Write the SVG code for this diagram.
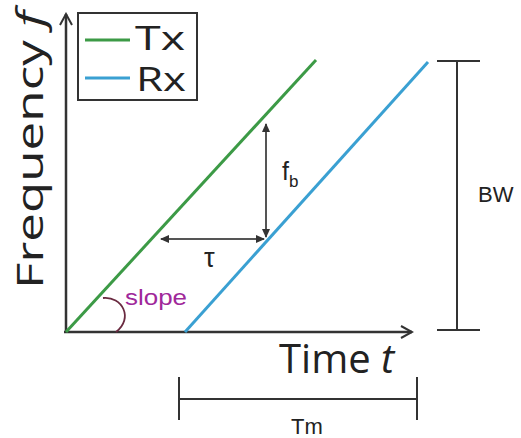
<svg xmlns="http://www.w3.org/2000/svg" width="521" height="438" viewBox="0 0 521 438">
<defs>
<marker id="ah" markerWidth="10" markerHeight="10" refX="8" refY="5" orient="auto-start-reverse" markerUnits="userSpaceOnUse">
<path d="M0,1 L9,5 L0,9 z" fill="#333"/>
</marker>
<marker id="ax" markerWidth="14" markerHeight="14" refX="12" refY="7" orient="auto" markerUnits="userSpaceOnUse">
<path d="M1,1 L12,7 L1,13" fill="none" stroke="#333" stroke-width="2"/>
</marker>
</defs>
<style>
.ax{stroke:#333;stroke-width:2.5;fill:none}
.dim{stroke:#333;stroke-width:2;fill:none}
.tri{stroke:#555;stroke-width:2;fill:none}
.tx{stroke:#3c9a46;stroke-width:3}
.rx{stroke:#3aa0d2;stroke-width:3}
.big{font-family:"Open Sans","DejaVu Sans",sans-serif;fill:#222}
.sm{font-family:"Liberation Sans",Arial,sans-serif;fill:#222}
</style>
<rect width="521" height="438" fill="#fff"/>
<g id="axes">
<line class="ax" x1="66" y1="333" x2="66" y2="14" marker-end="url(#ax)"/>
<line class="ax" x1="64" y1="332" x2="412" y2="332" marker-end="url(#ax)"/>
<text class="big" font-size="37" transform="translate(43,289) rotate(-90)" textLength="278" lengthAdjust="spacingAndGlyphs">Frequency <tspan font-style="italic">f</tspan></text>
<text class="big" font-size="40" x="279" y="373">Time <tspan font-style="italic">t</tspan></text>
</g>
<g id="legend">
<rect x="78" y="13" width="119" height="87" fill="#fff" stroke="#333" stroke-width="2"/>
<line class="tx" x1="85" y1="40" x2="130" y2="40"/>
<line class="rx" x1="85" y1="78" x2="130" y2="78"/>
<text class="big" font-size="32" x="135" y="50" textLength="50" lengthAdjust="spacingAndGlyphs">Tx</text>
<text class="big" font-size="32" x="136" y="91" textLength="50" lengthAdjust="spacingAndGlyphs">Rx</text>
</g>
<g id="tx-line"><line class="tx" x1="66" y1="332" x2="316" y2="60"/></g>
<g id="rx-line"><line class="rx" x1="185" y1="332" x2="428" y2="62"/></g>
<g id="connectors">
<line class="tri" x1="266" y1="237" x2="266" y2="124" marker-start="url(#ah)" marker-end="url(#ah)"/>
<line class="tri" x1="161" y1="239" x2="264" y2="239" marker-start="url(#ah)" marker-end="url(#ah)"/>
<path d="M103,298 C122,296 134,318 116,332" fill="none" stroke="#6a2a40" stroke-width="1.8"/>
</g>
<g id="labels">
<text class="sm" x="282" y="180" font-size="25">f<tspan font-size="17" dy="7">b</tspan></text>
<text class="sm" x="204" y="267" font-size="27">τ</text>
<text x="125" y="305" font-family="Liberation Sans,Arial,sans-serif" font-size="22" textLength="62" lengthAdjust="spacingAndGlyphs" fill="#a0289a">slope</text>
</g>
<g id="bw">
<line class="dim" x1="457" y1="61" x2="457" y2="330"/>
<line class="dim" x1="437" y1="61" x2="480" y2="61"/>
<line class="dim" x1="437" y1="330" x2="480" y2="330"/>
<text class="sm" font-size="22" x="478" y="202">BW</text>
</g>
<g id="tm">
<line class="dim" x1="179" y1="399" x2="416" y2="399"/>
<line class="dim" x1="179" y1="377" x2="179" y2="420"/>
<line class="dim" x1="417" y1="377" x2="417" y2="420"/>
<text class="sm" font-size="22" x="291" y="434">Tm</text>
</g>
</svg>
